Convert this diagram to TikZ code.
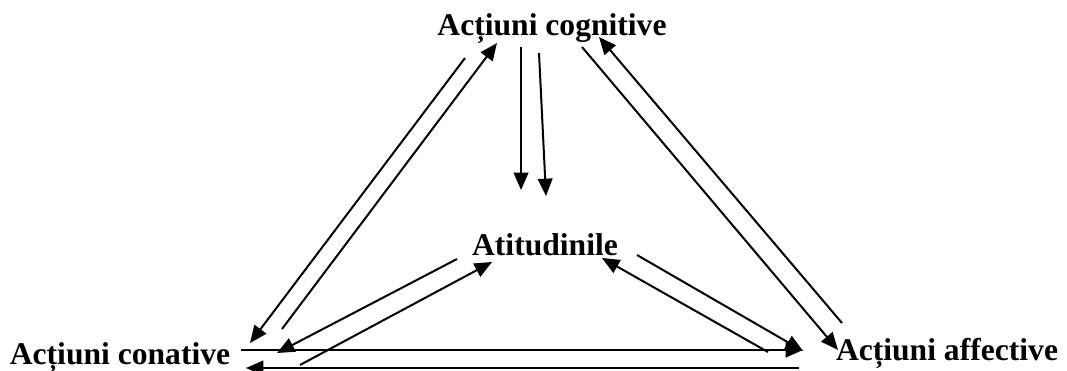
\documentclass[tikz,border=0pt]{standalone}
\usepackage{fontspec}
\setmainfont{Liberation Serif}
\usetikzlibrary{arrows.meta}

\begin{document}
\begin{tikzpicture}[x=0.75pt, y=-0.75pt,
    lbl/.style={inner sep=0pt, anchor=base, font=\fontsize{23.7pt}{28pt}\selectfont\bfseries},
    arrow/.style={-{Triangle[length=13pt, width=11pt]}, line width=1.5pt}
]
\useasboundingbox (0,0) rectangle (1067,371);
\node[lbl] (cog) at (552,35) {Acțiuni cognitive};
\node[lbl] (att) at (545,255) {Atitudinile};
\node[lbl] (con) at (120,364) {Acțiuni conative};
\node[lbl] (aff) at (947,360) {Acțiuni affective};

\coordinate (cg1) at (465,58);  \coordinate (cn1) at (250,343);
\coordinate (cn2) at (282,329); \coordinate (cg2) at (497,43);
\coordinate (at1) at (457,259); \coordinate (cn3) at (277,353);
\coordinate (cn4) at (300,365); \coordinate (at2) at (492,262);
\coordinate (cn5) at (241,350); \coordinate (af1) at (803,350);
\coordinate (af2) at (799,368); \coordinate (cn6) at (246,368);
\coordinate (at3) at (637,255); \coordinate (af3) at (803,351);
\coordinate (af4) at (768,352); \coordinate (at4) at (602,258);
\coordinate (cg3) at (582,47);  \coordinate (af5) at (838,350);
\coordinate (af6) at (842,323); \coordinate (cg4) at (599,37);
\coordinate (cg5) at (521,47);  \coordinate (at5) at (521,190);
\coordinate (cg6) at (539,53);  \coordinate (at6) at (546,196);

\draw[arrow] (cg1) -- (cn1);
\draw[arrow] (cn2) -- (cg2);
\draw[arrow] (at1) -- (cn3);
\draw[arrow] (cn4) -- (at2);
\draw[arrow] (cn5) -- (af1);
\draw[arrow] (af2) -- (cn6);
\draw[arrow] (at3) -- (af3);
\draw[arrow] (af4) -- (at4);
\draw[arrow] (cg3) -- (af5);
\draw[arrow] (af6) -- (cg4);
\draw[arrow] (cg5) -- (at5);
\draw[arrow] (cg6) -- (at6);
\end{tikzpicture}
\end{document}
